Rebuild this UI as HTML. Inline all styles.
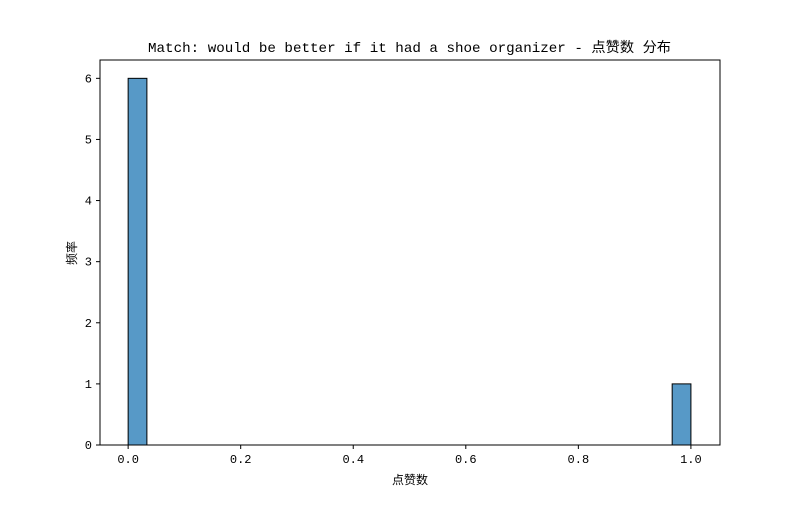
<!DOCTYPE html>
<html><head><meta charset="utf-8"><style>
body{margin:0;background:#fff;}
svg text{font-family:"WenQuanYi Zen Hei Mono","WenQuanYi Zen Hei","Liberation Mono","Noto Sans CJK SC",monospace;fill:#000;}
</style></head><body>
<svg id="chart" width="800" height="500" xmlns="http://www.w3.org/2000/svg">
<rect width="800" height="500" fill="#fff"/>
<g id="bars"></g>
<g id="axes"></g>
<text x="148" y="52" font-size="14" textLength="523" lengthAdjust="spacingAndGlyphs">Match: would be better if it had a shoe organizer - 点赞数 分布</text>
<text x="410" y="484" text-anchor="middle" font-size="12">点赞数</text>
<text x="0" y="0" transform="translate(76,253) rotate(-90)" text-anchor="middle" font-size="12">频率</text>
</svg>
<script>
const binStarts=[0.0,0.9667];
const binCounts=[6,1];
const binWidth=1/30;
const xTicks=[0.0,0.2,0.4,0.6,0.8,1.0];
const xTickLabels=["0.0","0.2","0.4","0.6","0.8","1.0"];
const yTicks=[0,1,2,3,4,5,6];
const L=100,R=720,T=60,B=445;
const xMin=-0.05,xMax=1.0517,yMax=6.3;
const xs=v=>L+(v-xMin)/(xMax-xMin)*(R-L);
const ys=v=>B-v/yMax*(B-T);
const NS="http://www.w3.org/2000/svg";
function mk(t,a,p){const e=document.createElementNS(NS,t);for(const k in a)e.setAttribute(k,a[k]);p.appendChild(e);return e;}
const bars=document.getElementById('bars'),axes=document.getElementById('axes');
binStarts.forEach((s,i)=>{
 const r=mk('rect',{x:xs(s),y:ys(binCounts[i]),width:xs(s+binWidth)-xs(s),height:ys(0)-ys(binCounts[i]),fill:'#5799c7',stroke:'#000','stroke-width':1},bars);
 
 
});
const fr=mk('rect',{x:L,y:T,width:R-L,height:B-T,fill:'none',stroke:'#000','stroke-width':1},axes);


xTicks.forEach((v,i)=>{
 const x=xs(v);
 mk('line',{x1:x,x2:x,y1:B,y2:B+4,stroke:'#000'},axes);
 const t=mk('text',{x:x,y:B+18,'text-anchor':'middle','font-size':12},axes);
 t.textContent=xTickLabels[i];
 
 
});
yTicks.forEach(v=>{
 const y=ys(v);
 mk('line',{x1:L-4,x2:L,y1:y,y2:y,stroke:'#000'},axes);
 const t=mk('text',{x:L-8,y:y+4,'text-anchor':'end','font-size':12},axes);
 t.textContent=String(v);
 
 
});
</script>
</body></html>
